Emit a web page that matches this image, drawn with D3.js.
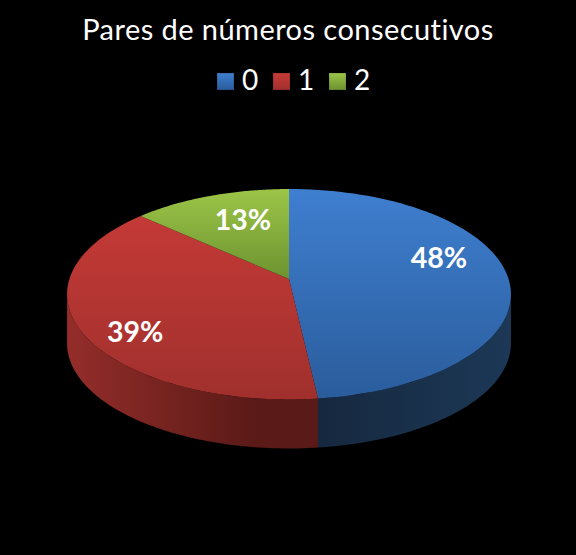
<!DOCTYPE html>
<html>
<head>
<meta charset="utf-8">
<script src="https://cdn.jsdelivr.net/npm/d3@7"></script>
<style>
html, body { margin: 0; padding: 0; background: #000; }
text { font-family: Lato, "Open Sans", sans-serif; fill: #fff; }
</style>
</head>
<body>
<div id="chart"></div>
<script>
var titleText = "Pares de números consecutivos";
var categories = ["0", "1", "2"];
var shares = [48.2, 38.5, 13.3];
var topColors = [["#3f7fd0", "#2a5c9b"], ["#c93b38", "#a0302d"], ["#9cc548", "#6c9230"]];
var wallColors = [["#16283f", "#1c3856"], ["#942d2a", "#5a1a17"], ["#6c9230", "#6c9230"]];
var labelAngles = [72.7, 234.2, 340.2];
var labelRadius = [0.738, 0.805, 0.676];

var width = 576, height = 555;

// pie is drawn flat, then pushed through a small perspective so the centre sits above the ellipse middle
var cx = 289, cy = 279, rx = 219.6, ry = 103, k = 0.145, depth = 49;

function project(a, r) {
    var w = 1 + k * r * Math.cos(a);
    return [cx + rx * r * Math.sin(a) / w, cy - ry * r * Math.cos(a) / w];
}

var svg = d3.select("#chart").append("svg")
    .attr("width", width)
    .attr("height", height)
    .style("display", "block");

svg.append("rect").attr("width", width).attr("height", height).attr("fill", "#000");

var defs = svg.append("defs");
var line = d3.line();
var slices = d3.pie().sort(null).value(function(d) { return d; })(shares);

var wallStart = Math.acos(-k), wallEnd = 2 * Math.PI - wallStart;
var xWall = d3.scaleLinear().domain([0, 1]).range([67, 317]);

function gradient(id, colors, x1, y1, x2, y2) {
    var g = defs.append("linearGradient").attr("id", id)
        .attr("gradientUnits", "userSpaceOnUse")
        .attr("x1", x1).attr("y1", y1).attr("x2", x2).attr("y2", y2);
    g.append("stop").attr("offset", 0).attr("stop-color", colors[0]);
    g.append("stop").attr("offset", 1).attr("stop-color", colors[1]);
}

function arcPoints(a0, a1) {
    return d3.range(0, 81).map(function(i) { return a0 + (a1 - a0) * i / 80; });
}

// walls
slices.forEach(function(s, i) {
    var a0 = Math.max(s.startAngle, wallStart), a1 = Math.min(s.endAngle, wallEnd);
    if (a1 <= a0) return;
    var rim = arcPoints(a0, a1).map(function(a) { return project(a, 1); });
    var low = rim.map(function(p) { return [p[0], p[1] + depth]; }).reverse();
    if (i === 0) gradient("wall" + i, wallColors[i], 317, 0, 511, 0);
    else gradient("wall" + i, wallColors[i], xWall(0), 0, xWall(0.75), 0);
    svg.append("path")
        .attr("d", line(rim.concat(low)) + "Z")
        .attr("fill", "url(#wall" + i + ")");
});

// top faces
slices.forEach(function(s, i) {
    if (i === 2) gradient("top" + i, topColors[i], 0, 189, 0, 280);
    else gradient("top" + i, topColors[i], 0, 189, 0, 400);
    var pts = [[cx, cy]].concat(arcPoints(s.startAngle, s.endAngle).map(function(a) { return project(a, 1); }));
    svg.append("path")
        .attr("d", line(pts) + "Z")
        .attr("fill", "url(#top" + i + ")");
});

// percentage labels
slices.forEach(function(s, i) {
    var p = project(labelAngles[i] * Math.PI / 180, labelRadius[i]);
    svg.append("text")
        .attr("x", p[0]).attr("y", p[1])
        .attr("text-anchor", "middle")
        .attr("dominant-baseline", "central")
        .attr("font-size", 28.5)
        .attr("font-weight", 700)
        .text(Math.round(shares[i]) + "%");
});

// title
svg.append("text")
    .attr("x", 288).attr("y", 40)
    .attr("text-anchor", "middle")
    .attr("font-size", 29)
    .attr("letter-spacing", 0.45)
    .text(titleText);

// legend
var xLegend = d3.scalePoint().domain(categories).range([217, 329]);
categories.forEach(function(c, i) {
    var x = xLegend(c);
    gradient("leg" + i, topColors[i], 0, 73, 0, 90);
    svg.append("rect")
        .attr("x", x).attr("y", 73)
        .attr("width", 17).attr("height", 17)
        .attr("fill", "url(#leg" + i + ")")
        .attr("stroke", "#000")
        .attr("stroke-opacity", 0.2);
    svg.append("text")
        .attr("x", x + 25).attr("y", 90)
        .attr("font-size", 28)
        .text(c);
});
</script>
</body>
</html>
